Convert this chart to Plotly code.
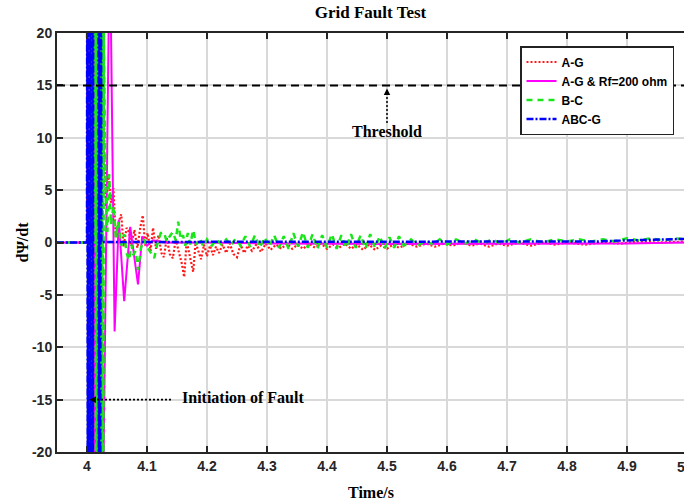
import plotly.graph_objects as go

# ---------------- data ----------------
threshold = 15

ag_t = [3.95, 4.0, 4.0015, 4.003, 4.0045, 4.006, 4.0075, 4.009, 4.0105, 4.012, 4.0135, 4.015,
        4.0165, 4.018, 4.0195, 4.021, 4.0225, 4.024, 4.0255, 4.027, 4.029, 4.032, 4.036, 4.040,
        4.044, 4.048, 4.052, 4.057, 4.061, 4.066, 4.070, 4.074, 4.079, 4.084, 4.089, 4.093,
        4.097, 4.101, 4.106, 4.110, 4.115, 4.119, 4.124, 4.128, 4.133, 4.138, 4.143, 4.148,
        4.153, 4.158, 4.162, 4.166, 4.171, 4.177, 4.181, 4.186, 4.190, 4.195, 4.200, 4.205,
        4.210, 4.215, 4.220, 4.226, 4.232, 4.238, 4.244, 4.250, 4.256, 4.262, 4.268, 4.275,
        4.282, 4.290, 4.298, 4.306, 4.315, 4.324, 4.333, 4.342, 4.351, 4.360, 4.370, 4.380,
        4.390, 4.400, 4.410, 4.420, 4.430, 4.440, 4.450, 4.460, 4.470, 4.480, 4.490, 4.500,
        4.510, 4.520, 4.535, 4.550, 4.565, 4.580, 4.595, 4.610, 4.625, 4.640, 4.655, 4.670,
        4.685, 4.700, 4.720, 4.740, 4.760, 4.780, 4.800, 4.830, 4.860, 4.890, 4.920, 4.950,
        4.980, 5.000]
ag_v = [0, 0, 40, -40, 40, -40, 40, -40, 40, -40, 40, -40,
        40, -40, 40, -40, 40, -40, 40, 30, 8.0, 3.5, 6.5, 3.8,
        5.2, 0.5, 1.8, 2.7, -0.4, 1.4, 1.0, -0.3, 1.2, -0.5, 1.5, 2.6,
        -0.3, 0.9, -0.8, 1.4, -0.6, 0.7, -1.0, -1.4, 0.4, -1.1, -1.5, 0.3,
        -0.9, -2.0, -3.3, 0.1, -1.2, -2.8, 0.0, -1.0, -1.6, -0.2, -1.3, -0.3,
        -1.2, -0.4, -1.0, -0.2, -1.0, -0.1, -1.1, -1.4, -0.2, -1.0, -0.3, -0.8,
        -0.2, -0.9, -0.1, -0.7, -0.2, -0.6, -0.1, -0.6, -0.2, -0.6, -0.1, -0.5,
        -0.1, -0.6, -0.2, -0.5, -0.1, -0.6, -0.2, -0.7, -0.2, -0.7, -0.3, -0.6,
        -0.2, -0.5, -0.1, -0.4, -0.1, -0.4, -0.1, -0.3, 0.0, -0.3, -0.1, -0.4,
        -0.1, -0.3, 0.0, -0.3, 0.0, -0.2, 0.0, -0.2, 0.0, -0.1, 0.1, 0.0,
        0.1, 0.1]

agrf_t = [3.95, 4.0, 4.008, 4.009, 4.010, 4.011, 4.012, 4.013, 4.014, 4.015, 4.016, 4.017,
          4.018, 4.026, 4.028, 4.038, 4.046, 4.053, 4.062, 4.072, 4.085, 4.092, 4.100,
          4.110, 4.130, 4.200, 4.300, 4.500, 4.700, 4.900, 5.000]
agrf_v = [0, 0, 0, 40, -40, 40, -40, 40, -40, 40, -40, 40,
          -40, -40, -19, 30, -8.5, 2.2, -5.6, 1.5, -4.0, 0.6, -0.3,
          0.2, 0.0, 0.0, -0.1, -0.15, -0.15, -0.1, 0.0]

bc_t = [3.95, 4.0, 4.013, 4.014, 4.015, 4.016, 4.017, 4.018, 4.019, 4.020, 4.021, 4.022,
        4.023, 4.024, 4.025, 4.026, 4.027, 4.028, 4.031, 4.034, 4.037, 4.040, 4.044, 4.048,
        4.052, 4.057, 4.062, 4.066, 4.070, 4.074, 4.077, 4.081, 4.085, 4.090, 4.095, 4.100,
        4.107, 4.112, 4.117, 4.123, 4.128, 4.133, 4.138, 4.143, 4.148, 4.152, 4.156, 4.160,
        4.164, 4.168, 4.172, 4.177, 4.182, 4.188, 4.194, 4.200, 4.208, 4.216, 4.224, 4.232,
        4.240, 4.248, 4.256, 4.264, 4.272, 4.280, 4.288, 4.296, 4.304, 4.312, 4.320, 4.328,
        4.336, 4.344, 4.352, 4.360, 4.368, 4.376, 4.384, 4.392, 4.400, 4.408, 4.416, 4.424,
        4.432, 4.440, 4.448, 4.456, 4.464, 4.472, 4.480, 4.488, 4.496, 4.504, 4.512, 4.520,
        4.528, 4.540, 4.552, 4.564, 4.576, 4.588, 4.600, 4.615, 4.630, 4.645, 4.660, 4.675,
        4.690, 4.705, 4.720, 4.740, 4.760, 4.780, 4.800, 4.820, 4.840, 4.860, 4.880, 4.900,
        4.920, 4.940, 4.960, 4.980, 5.000]
bc_v = [0, 0, 0, 40, -40, 40, -40, 40, -40, 40, -40, 40,
        -40, 40, -40, 40, -40, 20, 4.5, 1.0, 6.5, 1.7, 3.5, 0.5,
        2.0, -0.3, 0.8, -1.0, -1.7, -0.2, -1.2, -0.8, -2.6, -0.5, 0.3, -0.4,
        -1.0, -1.5, -0.2, 0.9, 1.0, 0.1, 0.6, 1.0, 0.2, 2.0, 0.3, 0.7,
        -0.3, 0.9, -0.2, 1.2, -0.2, 0.4, -0.4, 0.3, -0.3, 0.3, -0.2, 0.3,
        -0.3, 0.4, -0.3, 0.6, -0.4, 0.7, -0.5, 0.5, -0.4, 0.7, -0.5, 0.6,
        -0.6, 0.9, -0.4, 1.0, -0.5, 0.8, -0.6, 0.7, -0.5, 0.8, -0.6, 0.7,
        -0.5, 0.8, -0.5, 0.7, -0.6, 0.8, -0.5, 0.6, -0.6, 0.5, -0.5, 0.6,
        -0.3, 0.3, -0.3, 0.2, -0.2, 0.3, -0.2, 0.3, -0.1, 0.3, -0.1, 0.3,
        -0.1, 0.3, 0.0, 0.3, 0.0, 0.3, 0.1, 0.3, 0.1, 0.3, 0.1, 0.4,
        0.2, 0.4, 0.2, 0.4, 0.3]

abcg_t = [3.95, 4.0, 4.0005, 4.0015, 4.0025, 4.0035, 4.0045, 4.0055, 4.0065, 4.0075, 4.0085,
          4.0095, 4.0105, 4.019, 4.020, 4.021, 4.022, 4.023, 4.024, 4.300, 4.600, 4.850,
          4.900, 4.950, 5.000]
abcg_v = [0, 0, 40, -40, 40, -40, 40, -40, 40, -40, 40,
          -40, 40, 40, -40, 40, -40, 40, 0.05, 0.05, 0.05, 0.1,
          0.2, 0.3, 0.35]

x_ticks = [4.0, 4.1, 4.2, 4.3, 4.4, 4.5, 4.6, 4.7, 4.8, 4.9]
x_labels = ["4", "4.1", "4.2", "4.3", "4.4", "4.5", "4.6", "4.7", "4.8", "4.9"]
y_ticks = [-20, -15, -10, -5, 0, 5, 10, 15, 20]
y_labels = ["-20", "-15", "-10", "-5", "0", "5", "10", "15", "20"]

# ---------------- figure ----------------
W, H = 684, 504
ML, MR, MT, MB = 57, 0, 33, 52
x0, x1 = 3.95, 3.95 + (W - ML - MR) / 600.0

fig = go.Figure()
fig.add_trace(go.Scatter(x=ag_t, y=ag_v, mode="lines", name="A-G",
                         line=dict(color="#ff1a1a", width=2.2, dash="2px,2px")))
fig.add_trace(go.Scatter(x=agrf_t, y=agrf_v, mode="lines", name="A-G & Rf=200 ohm",
                         line=dict(color="#ff00ff", width=2)))
fig.add_trace(go.Scatter(x=bc_t, y=bc_v, mode="lines", name="B-C",
                         line=dict(color="#19e619", width=2.5, dash="6px,5px")))
fig.add_trace(go.Scatter(x=abcg_t, y=abcg_v, mode="lines", name="ABC-G",
                         line=dict(color="#0000ff", width=2.5, dash="7px,2px,2px,2px")))

serif = "Liberation Serif, Times New Roman, serif"
sans_n = "Liberation Sans Narrow, Arial Narrow, Liberation Sans, Arial, sans-serif"
sans = "Liberation Sans, Arial, sans-serif"

shapes = [
    dict(type="line", xref="paper", x0=0, x1=1, yref="y", y0=threshold, y1=threshold,
         line=dict(color="black", width=2, dash="8px,5px"), layer="above"),
    dict(type="line", xref="x", x0=4.5, x1=4.5, yref="y", y0=11.4, y1=14.1,
         line=dict(color="black", width=1.5, dash="2px,2px")),
    dict(type="line", xref="x", x0=4.010, x1=4.140, yref="y", y0=-15, y1=-15,
         line=dict(color="black", width=1.8, dash="2px,2px")),
]

annotations = [
    dict(x=4.5, y=10.6, xref="x", yref="y", text="<b>Threshold</b>", showarrow=False,
         font=dict(family=serif, size=16, color="black")),
    dict(x=4.5, y=14.7, xref="x", yref="y", text="", showarrow=True, ax=0, ay=7,
         arrowhead=2, arrowsize=1, arrowwidth=1.3, arrowcolor="black"),
    dict(x=4.155, y=-14.8, xref="x", yref="y", text="<b>Initiation of Fault</b>",
         showarrow=False, xanchor="left", font=dict(family=serif, size=16, color="black")),
    dict(x=4.004, y=-15, xref="x", yref="y", text="", showarrow=True, ax=8, ay=0,
         arrowhead=2, arrowsize=1, arrowwidth=1.3, arrowcolor="black"),
    dict(x=0.5, y=(MB - 12) / -(H - MT - MB), xref="paper", yref="paper", text="<b>Time/s</b>",
         showarrow=False, yanchor="middle", font=dict(family=serif, size=16, color="black")),
    dict(x=-(ML - 22) / (W - ML - MR), y=0.5, xref="paper", yref="paper", text="<b>dΨ/dt</b>",
         showarrow=False, textangle=-90, xanchor="center", yanchor="middle",
         font=dict(family=serif, size=16, color="black")),
    dict(x=(5.0 - x0) / (x1 - x0), y=-15 / (H - MT - MB), xref="paper", yref="paper",
         text="<b>5</b>", showarrow=False, yanchor="middle",
         font=dict(family=sans_n, size=14, color="#262626")),
]

fig.update_layout(
    width=W, height=H,
    margin=dict(l=ML, r=MR, t=MT, b=MB, pad=0),
    paper_bgcolor="white", plot_bgcolor="white",
    title=dict(text="<b>Grid Fault Test</b>", x=0.5, xref="paper", y=1 - 12 / H,
               yref="container", yanchor="middle", xanchor="center",
               font=dict(family=serif, size=17, color="black")),
    showlegend=True,
    legend=dict(x=(674 - ML) / (W - ML - MR), y=(H - MB - 46) / (H - MT - MB),
                xanchor="right", yanchor="top", bgcolor="white", bordercolor="#222",
                borderwidth=1.5, font=dict(family=sans, size=12, color="black", weight="bold"),
                tracegroupgap=0, itemwidth=30),
    shapes=shapes, annotations=annotations,
)

fig.update_xaxes(range=[x0, x1], tickvals=x_ticks, ticktext=x_labels,
                 showgrid=True, gridcolor="#d9d9d9", gridwidth=1.5, zeroline=False,
                 showline=True, linecolor="#262626", linewidth=2, mirror="ticks",
                 ticks="inside", ticklen=6, tickwidth=1.5, tickcolor="#262626",
                 tickfont=dict(family=sans_n, size=14, color="#262626", weight="bold"))
fig.update_yaxes(range=[-20, 20], tickvals=y_ticks, ticktext=y_labels,
                 showgrid=True, gridcolor="#d9d9d9", gridwidth=1.5, zeroline=False,
                 showline=True, linecolor="#262626", linewidth=2, mirror=False,
                 ticks="inside", ticklen=6, tickwidth=1.5, tickcolor="#262626",
                 tickfont=dict(family=sans_n, size=14, color="#262626", weight="bold"))

fig.write_html("out.html")
